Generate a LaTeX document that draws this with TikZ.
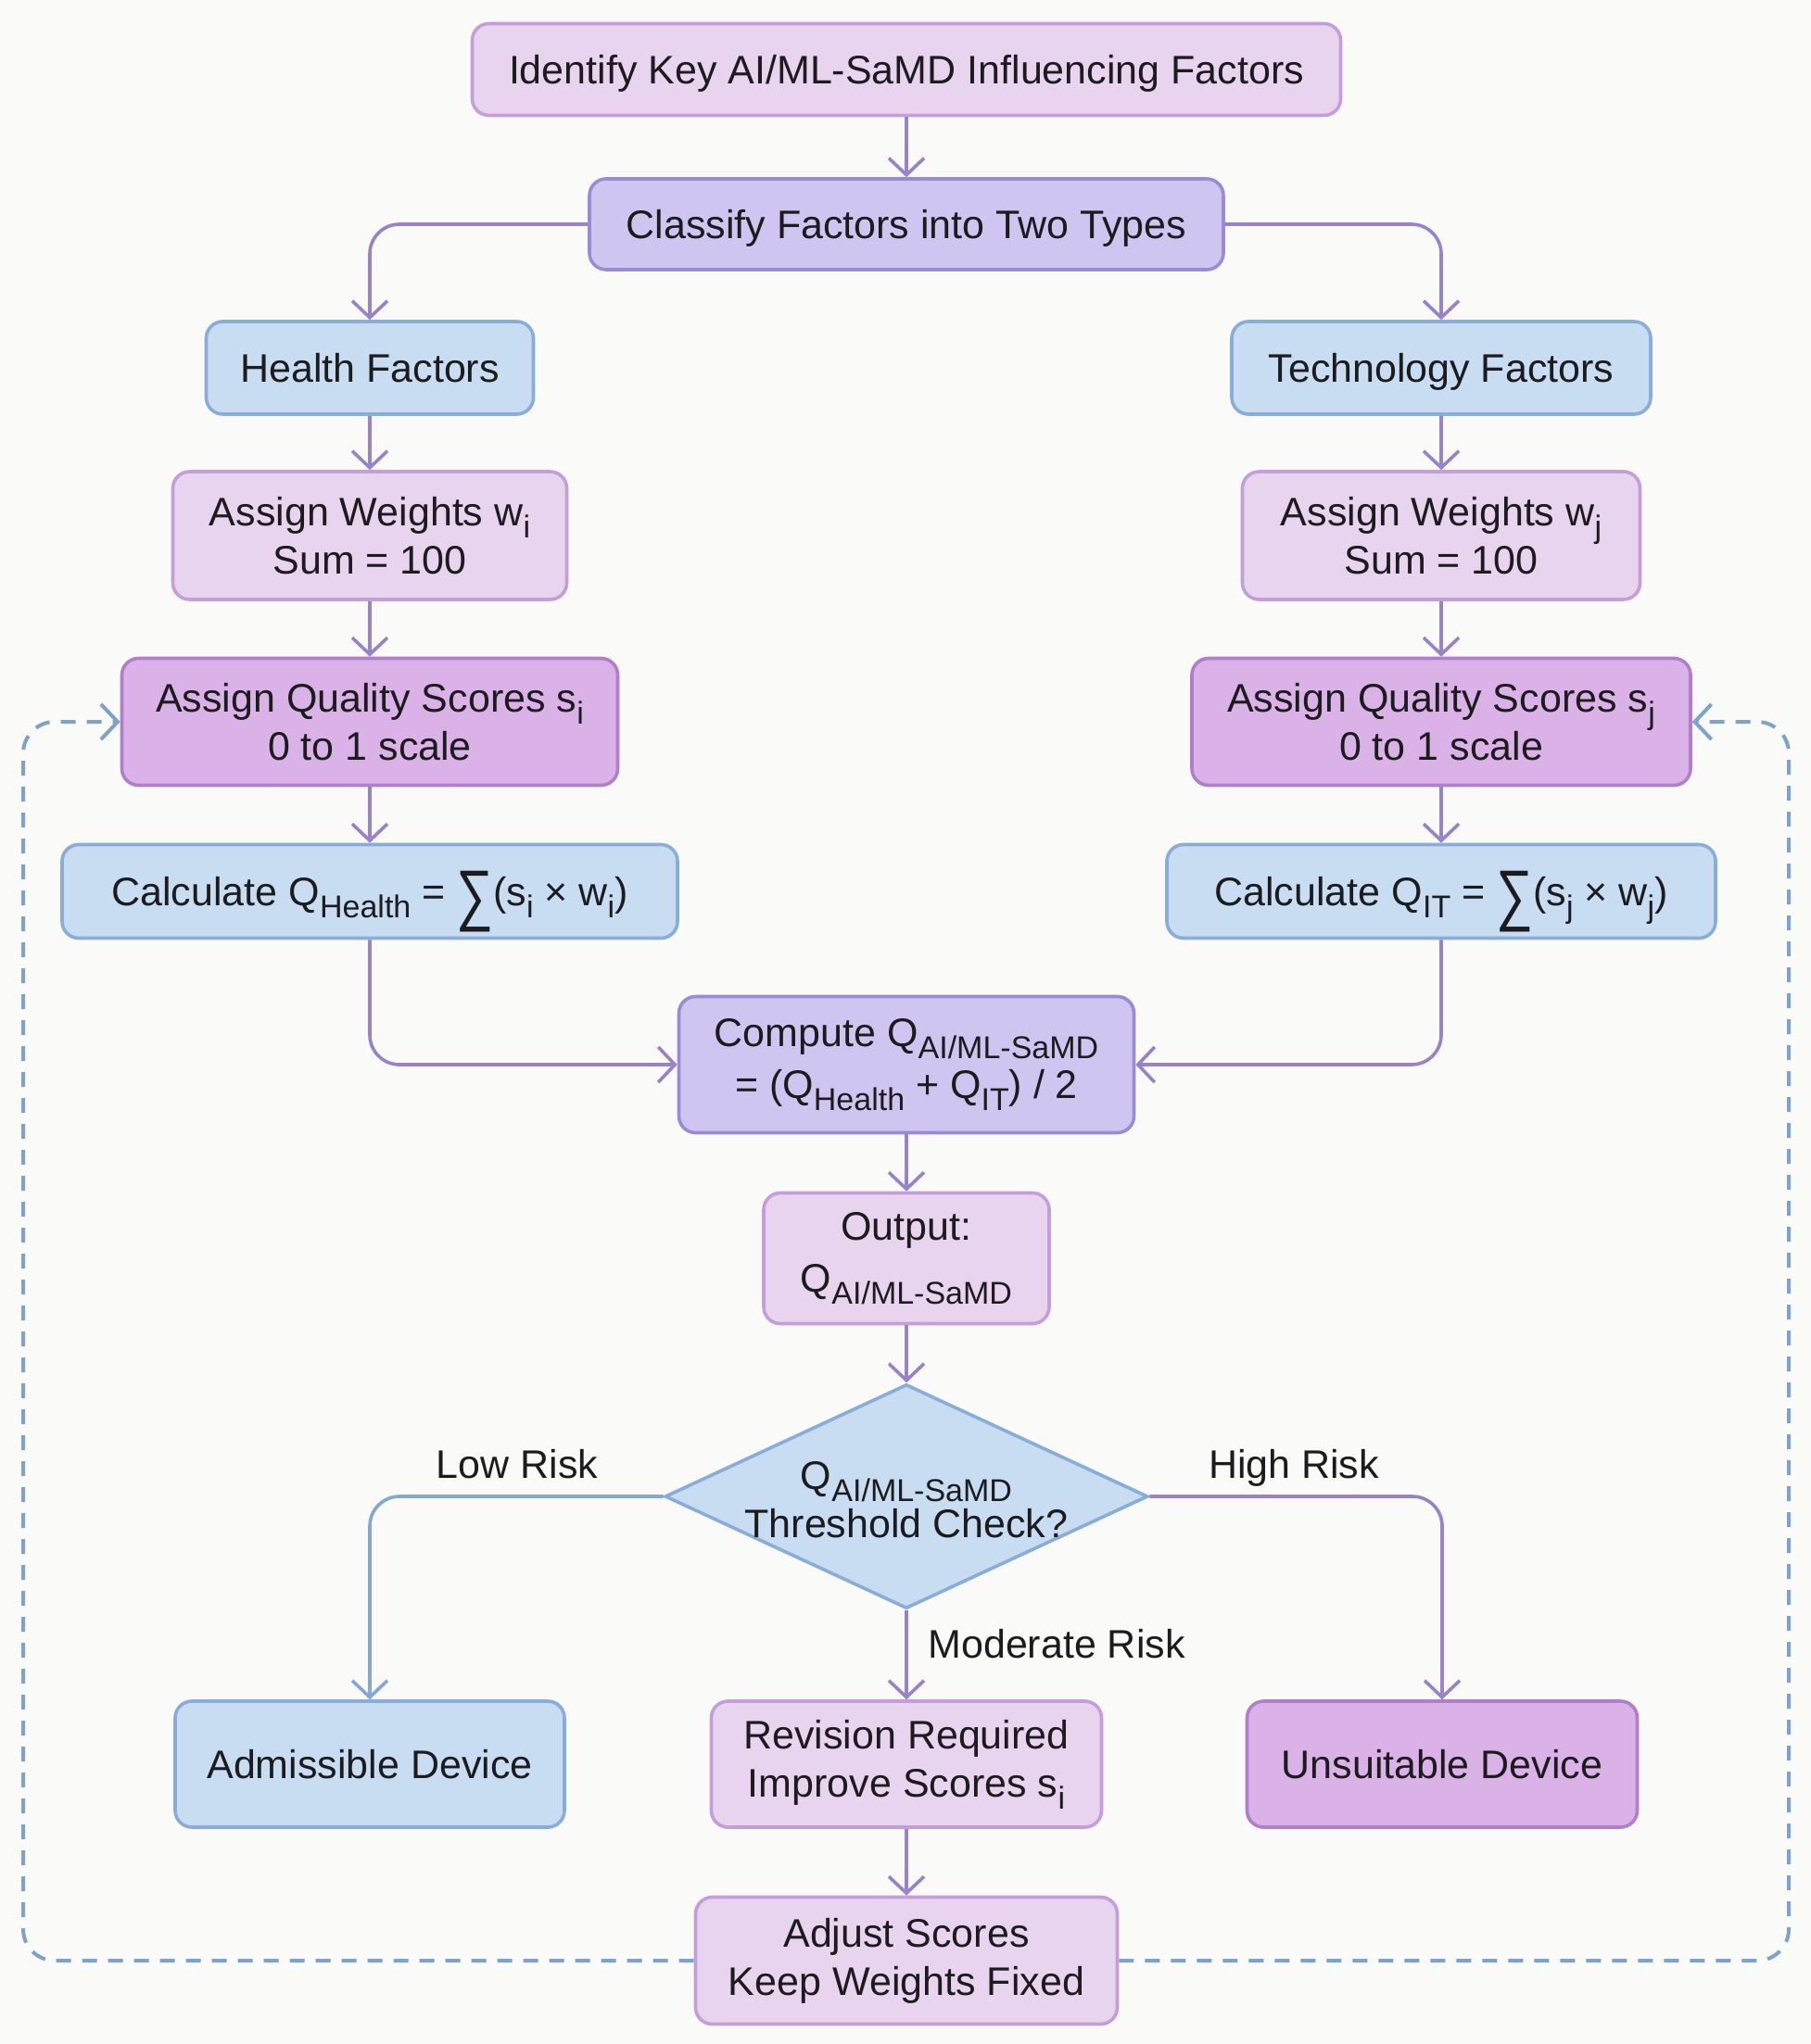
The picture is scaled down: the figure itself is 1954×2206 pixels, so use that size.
\documentclass[tikz,border=0pt]{standalone}
\usepackage{fontspec}
\setmainfont{Liberation Sans}
\usepackage{graphicx}
\usetikzlibrary{shapes.geometric,arrows.meta,calc}
\definecolor{bgc}{HTML}{FAFAF8}
\definecolor{txt}{HTML}{1C1C1E}
\definecolor{pinkF}{HTML}{E9D4EF}
\definecolor{pinkD}{HTML}{C59DD8}
\definecolor{lavF}{HTML}{CFC5F0}
\definecolor{lavD}{HTML}{9C8AD6}
\definecolor{blueF}{HTML}{C8DCF2}
\definecolor{blueD}{HTML}{88ADDA}
\definecolor{purpF}{HTML}{DAB2E7}
\definecolor{purpD}{HTML}{B07ECB}
\definecolor{arrP}{HTML}{9A82CB}
\definecolor{arrB}{HTML}{84A8D6}
\definecolor{dashC}{HTML}{7DA2CC}
\newcommand\sbs[1]{\raisebox{-0.3em}{\fontsize{17}{17}\selectfont #1}}
\newcommand\bigsum{\raisebox{-0.3em}{\scalebox{1.3}[1.7]{∑}}}
\begin{document}
\begin{tikzpicture}[x=0.5pt,y=-0.5pt,
  box/.style={draw, rounded corners=9pt, line width=1.8pt, align=center, text=txt, inner sep=0pt,
    font=\fontsize{21.5}{26}\selectfont},
  one/.style={text height=15.4pt, text depth=0pt},
  wh/.style 2 args={minimum width=#1*0.5pt, minimum height=#2*0.5pt},
  pinkb/.style={box, fill=pinkF, draw=pinkD},
  lavb/.style={box, fill=lavF, draw=lavD},
  blueb/.style={box, fill=blueF, draw=blueD},
  purpb/.style={box, fill=purpF, draw=purpD},
  tip/.style={-{Straight Barb[length=9pt,width=19pt]}},
  arr/.style={line width=1.8pt, draw=arrP, tip, rounded corners=16pt},
  arrb/.style={line width=1.8pt, draw=arrB, tip, rounded corners=16pt},
  loop/.style={line width=2pt, draw=dashC, dash pattern=on 8pt off 6pt, tip, rounded corners=17pt},
  lbl/.style={text=txt, font=\fontsize{21.5}{26}\selectfont, inner sep=0pt, text height=15.4pt, text depth=0pt},
]
\fill[bgc] (0,0) rectangle (1954,2206);
\useasboundingbox (0,0) rectangle (1954,2206);

\node[pinkb, one, wh={937}{99}] (ident) at (978,75) {Identify Key AI/ML-SaMD Influencing Factors};
\node[lavb, one, wh={684}{98}] (classify) at (978,242) {Classify Factors into Two Types};
\node[blueb, one, wh={353}{100}] (health) at (399,397) {Health Factors};
\node[blueb, one, wh={452}{100}] (tech) at (1555,397) {Technology Factors};
\node[pinkb, wh={425}{138}] (wi) at (399,578) {Assign Weights w\sbs{i}\\Sum = 100};
\node[pinkb, wh={429}{138}] (wj) at (1555,578) {Assign Weights w\sbs{j}\\Sum = 100};
\node[purpb, wh={535}{137}] (si) at (399,779) {Assign Quality Scores s\sbs{i}\\0 to 1 scale};
\node[purpb, wh={538}{137}] (sj) at (1555,779) {Assign Quality Scores s\sbs{j}\\0 to 1 scale};
\node[blueb, one, wh={664}{101}] (qh) at (399,962) {Calculate Q\sbs{Health} = \bigsum(s\sbs{i} × w\sbs{i})};
\node[blueb, one, wh={592}{101}] (qit) at (1555,962) {Calculate Q\sbs{IT} = \bigsum(s\sbs{j} × w\sbs{j})};
\node[lavb, wh={491}{147}] (compute) at (978,1149) {Compute Q\sbs{AI/ML-SaMD}\\[2pt]= (Q\sbs{Health} + Q\sbs{IT}) / 2};
\node[pinkb, wh={308}{141}] (output) at (978,1358) {Output:\\[2pt]Q\sbs{AI/ML-SaMD}};
\node[diamond, draw=blueD, fill=blueF, line width=1.8pt, inner sep=0pt,
      minimum width=260.5pt, minimum height=121pt] (dec) at (978,1615) {};
\node[text=txt, font=\fontsize{21.5}{26}\selectfont, inner sep=0pt, align=center] (dectext) at (978,1619) {Q\sbs{AI/ML-SaMD}\\Threshold Check?};
\node[blueb, one, wh={420}{136}] (adm) at (399,1904) {Admissible Device};
\node[pinkb, wh={421}{136}] (rev) at (978,1904) {Revision Required\\Improve Scores s\sbs{i}};
\node[purpb, one, wh={421}{136}] (uns) at (1556,1904) {Unsuitable Device};
\node[pinkb, wh={455}{137}] (adjust) at (978,2116) {Adjust Scores\\Keep Weights Fixed};

\draw[arr] (ident) -- (classify);
\draw[arr] (classify.west) -| (health.north);
\draw[arr] (classify.east) -| (tech.north);
\draw[arr] (health) -- (wi);
\draw[arr] (wi) -- (si);
\draw[arr] (si) -- (qh);
\draw[arr] (tech) -- (wj);
\draw[arr] (wj) -- (sj);
\draw[arr] (sj) -- (qit);
\draw[arr] (qh.south) |- (compute.west);
\draw[arr] (qit.south) |- (compute.east);
\draw[arr] (compute) -- (output);
\draw[arr] (output) -- (dec.north);
\draw[arrb] (dec.west) -| (adm.north);
\draw[arr] (dec.east) -| (uns.north);
\draw[arr] (dec.south) -- (rev.north);
\draw[arr] (rev) -- (adjust);

\node[lbl] (lowlbl) at (558,1580) {Low Risk};
\node[lbl] (highlbl) at (1396,1580) {High Risk};
\node[lbl, anchor=west] (modlbl) at (1001,1774) {Moderate Risk};

\coordinate (lc) at (25,1400);
\coordinate (rc) at (1930,1400);
\draw[loop] (adjust.west) -| (lc) |- (si.west);
\draw[loop] (adjust.east) -| (rc) |- (sj.east);
\end{tikzpicture}
\end{document}
